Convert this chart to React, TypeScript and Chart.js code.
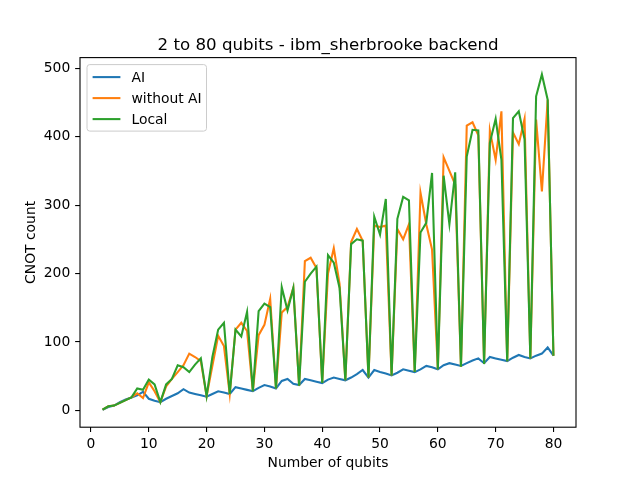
import React, { useEffect, useRef } from "react";
import { Chart, registerables } from "chart.js";

Chart.register(...registerables);

const qubits = [
  2, 3, 4, 5, 6, 7, 8, 9, 10, 11, 12, 13, 14, 15, 16, 17, 18, 19, 20,
  21, 22, 23, 24, 25, 26, 27, 28, 29, 30, 31, 32, 33, 34, 35, 36, 37, 38, 39, 40,
  41, 42, 43, 44, 45, 46, 47, 48, 49, 50, 51, 52, 53, 54, 55, 56, 57, 58, 59, 60,
  61, 62, 63, 64, 65, 66, 67, 68, 69, 70, 71, 72, 73, 74, 75, 76, 77, 78, 79, 80,
];

const aiCounts = [
  1, 5, 7, 12, 16, 19, 22, 27, 17, 14, 12, 17, 21, 25, 31, 26, 24, 22, 20,
  24, 28, 26, 24, 34, 32, 30, 28, 33, 37, 35, 32, 43, 46, 39, 37, 46, 44, 42, 40,
  45, 48, 46, 44, 48, 53, 59, 48, 59, 56, 54, 51, 55, 60, 58, 56, 60, 65, 63, 60,
  66, 69, 67, 65, 69, 73, 76, 69, 78, 76, 74, 72, 77, 81, 78, 76, 80, 83, 92, 80,
];

const withoutAiCounts = [
  1, 6, 7, 11, 15, 19, 25, 18, 41, 28, 12, 35, 46, 56, 66, 83, 78, 72, 21,
  65, 109, 94, 24, 118, 128, 116, 28, 110, 125, 163, 32, 143, 151, 179, 36, 218, 223, 208, 40,
  200, 237, 185, 44, 246, 265, 248, 48, 270, 268, 270, 51, 265, 250, 272, 56, 318, 272, 235, 60,
  370, 350, 330, 64, 416, 421, 402, 68, 409, 366, 437, 72, 406, 389, 426, 76, 425, 320, 454, 80,
];

const localCounts = [
  1, 6, 7, 11, 15, 19, 32, 30, 45, 38, 12, 38, 46, 66, 63, 56, 67, 76, 21,
  78, 118, 128, 24, 118, 108, 144, 28, 145, 156, 151, 32, 180, 146, 179, 36, 188, 200, 210, 40,
  227, 216, 179, 44, 243, 250, 248, 48, 283, 257, 309, 51, 280, 312, 307, 56, 260, 274, 347, 60,
  343, 272, 348, 64, 371, 410, 409, 68, 391, 426, 366, 72, 427, 437, 396, 76, 459, 491, 454, 80,
];

const xTicks = [0, 10, 20, 30, 40, 50, 60, 70, 80];
const yTicks = [0, 100, 200, 300, 400, 500];

const seriesNames = ["AI", "without AI", "Local"];
const seriesColors = ["#1f77b4", "#ff7f0e", "#2ca02c"];

const titleText = "2 to 80 qubits - ibm_sherbrooke backend";
const xLabel = "Number of qubits";
const yLabel = "CNOT count";

const FONT = "'DejaVu Sans', sans-serif";

const decorPlugin = {
  id: "decor",
  afterDraw(chart: any) {
    const ctx = chart.ctx;
    const a = chart.chartArea;
    ctx.save();
    // spines
    ctx.strokeStyle = "#000";
    ctx.lineWidth = 1.1;
    ctx.strokeRect(a.left, a.top, a.right - a.left, a.bottom - a.top);
    // title
    ctx.fillStyle = "#000";
    ctx.font = `16.67px ${FONT}`;
    ctx.textAlign = "center";
    ctx.textBaseline = "alphabetic";
    ctx.fillText(titleText, (a.left + a.right) / 2, 50);
    // axis labels
    ctx.font = `13.89px ${FONT}`;
    ctx.fillText(xLabel, (a.left + a.right) / 2, 467);
    ctx.save();
    ctx.translate(35, (a.top + a.bottom) / 2);
    ctx.rotate(-Math.PI / 2);
    ctx.fillText(yLabel, 0, 0);
    ctx.restore();
    // legend
    const bx = a.left + 7;
    const by = a.top + 7;
    const bw = 119.5;
    const bh = 66.5;
    const r = 2.8;
    ctx.beginPath();
    ctx.moveTo(bx + r, by);
    ctx.lineTo(bx + bw - r, by);
    ctx.quadraticCurveTo(bx + bw, by, bx + bw, by + r);
    ctx.lineTo(bx + bw, by + bh - r);
    ctx.quadraticCurveTo(bx + bw, by + bh, bx + bw - r, by + bh);
    ctx.lineTo(bx + r, by + bh);
    ctx.quadraticCurveTo(bx, by + bh, bx, by + bh - r);
    ctx.lineTo(bx, by + r);
    ctx.quadraticCurveTo(bx, by, bx + r, by);
    ctx.closePath();
    ctx.fillStyle = "rgba(255,255,255,0.8)";
    ctx.fill();
    ctx.strokeStyle = "#cccccc";
    ctx.lineWidth = 1;
    ctx.stroke();
    ctx.textAlign = "left";
    ctx.textBaseline = "middle";
    ctx.font = `13.89px ${FONT}`;
    for (let i = 0; i < seriesNames.length; i++) {
      const cy = by + 12.5 + i * 21;
      ctx.strokeStyle = seriesColors[i];
      ctx.lineWidth = 2.08;
      ctx.beginPath();
      ctx.moveTo(bx + 5.6, cy);
      ctx.lineTo(bx + 5.6 + 27.8, cy);
      ctx.stroke();
      ctx.fillStyle = "#000";
      ctx.fillText(seriesNames[i], bx + 5.6 + 27.8 + 11.1, cy + 1);
    }
    ctx.restore();
  },
};

export default function App() {
  const canvasRef = useRef<HTMLCanvasElement | null>(null);

  useEffect(() => {
    document.body.style.margin = "0";
    const canvas = canvasRef.current;
    if (!canvas) return;
    const seriesValues = [aiCounts, withoutAiCounts, localCounts];
    const datasets = seriesNames.map((name, i) => ({
      label: name,
      data: qubits.map((q, j) => ({ x: q, y: seriesValues[i][j] })),
      borderColor: seriesColors[i],
      backgroundColor: seriesColors[i],
      borderWidth: 2.08,
      pointRadius: 0,
      tension: 0,
      fill: false,
      order: seriesNames.length - 1 - i,
    }));
    const chart = new Chart(canvas, {
      type: "line",
      data: { datasets },
      options: {
        animation: false,
        responsive: false,
        maintainAspectRatio: false,
        layout: { padding: { top: 57.6, right: 64, bottom: 0, left: 0 } },
        plugins: {
          legend: { display: false },
          title: { display: false },
          tooltip: { enabled: false },
        },
        scales: {
          x: {
            type: "linear",
            min: -1.9,
            max: 83.9,
            afterBuildTicks: (s: any) => {
              s.ticks = xTicks.map((v) => ({ value: v }));
            },
            afterFit: (s: any) => {
              s.height = 52.8;
            },
            grid: {
              display: true,
              drawOnChartArea: false,
              drawTicks: true,
              tickLength: 4.86,
              color: "#000",
              lineWidth: 1.1,
            },
            border: { display: false },
            ticks: {
              color: "#000",
              font: { family: FONT, size: 13.89 },
              padding: 4.5,
              maxRotation: 0,
              autoSkip: false,
            },
          },
          y: {
            type: "linear",
            min: -24.55,
            max: 515.55,
            afterBuildTicks: (s: any) => {
              s.ticks = yTicks.map((v) => ({ value: v }));
            },
            afterFit: (s: any) => {
              s.width = 80;
            },
            grid: {
              display: true,
              drawOnChartArea: false,
              drawTicks: true,
              tickLength: 4.86,
              color: "#000",
              lineWidth: 1.1,
            },
            border: { display: false },
            ticks: {
              color: "#000",
              font: { family: FONT, size: 13.89 },
              padding: 4.86,
              autoSkip: false,
            },
          },
        },
      },
      plugins: [decorPlugin],
    } as any);
    return () => chart.destroy();
  }, []);

  return (
    <div style={{ position: "fixed", left: 0, top: 0, width: 640, height: 480, background: "#fff" }}>
      <canvas ref={canvasRef} width={640} height={480} style={{ width: 640, height: 480 }} />
    </div>
  );
}
